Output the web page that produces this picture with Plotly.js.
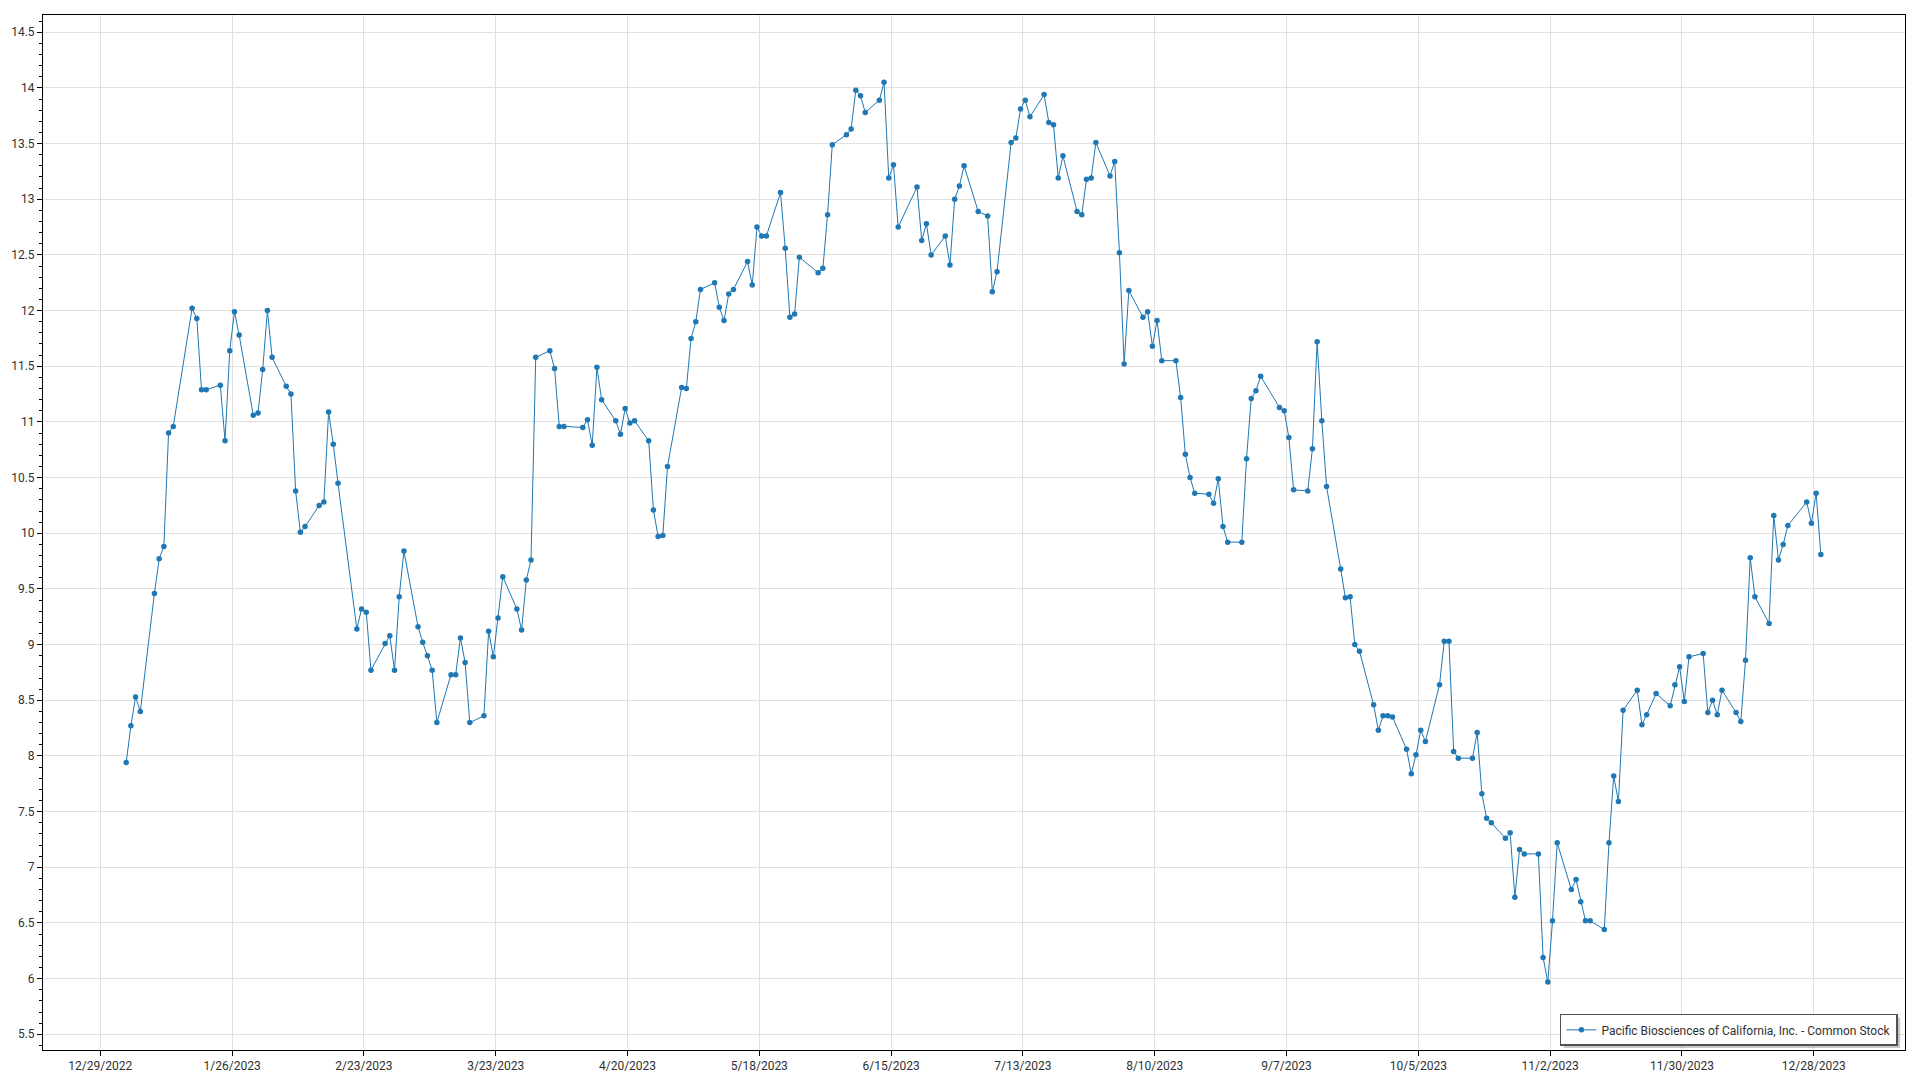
<!DOCTYPE html>
<html>
<head>
<meta charset="utf-8">
<script src="https://cdn.plot.ly/plotly-3.0.1.min.js"></script>
<style>
  html, body { margin: 0; padding: 0; background: #ffffff; }
  #chart { width: 1920px; height: 1080px; }
</style>
</head>
<body>
<div id="chart"></div>
<script>
// ---- Data: daily closing prices, 2023 ----
const seriesName = "Pacific Biosciences of California, Inc. - Common Stock";
const dataYear = 2023;

const janDays  = [3,4,5,6,9,10,11,12,13,17,18,19,20,23,24,25,26,27,30,31];
const janClose = [7.94,8.27,8.53,8.40,9.46,9.77,9.88,10.90,10.96,12.02,11.93,11.29,11.29,11.33,10.83,11.64,11.99,11.78,11.06,11.08];

const febDays  = [1,2,3,6,7,8,9,10,13,14,15,16,17,21,22,23,24,27,28];
const febClose = [11.47,12.00,11.58,11.32,11.25,10.38,10.01,10.06,10.25,10.28,11.09,10.80,10.45,9.14,9.32,9.29,8.77,9.01,9.08];

const marDays  = [1,2,3,6,7,8,9,10,13,14,15,16,17,20,21,22,23,24,27,28,29,30,31];
const marClose = [8.77,9.43,9.84,9.16,9.02,8.90,8.77,8.30,8.73,8.73,9.06,8.84,8.30,8.36,9.12,8.89,9.24,9.61,9.32,9.13,9.58,9.76,11.58];

const aprDays  = [3,4,5,6,10,11,12,13,14,17,18,19,20,21,24,25,26,27,28];
const aprClose = [11.64,11.48,10.96,10.96,10.95,11.02,10.79,11.49,11.20,11.01,10.89,11.12,10.99,11.01,10.83,10.21,9.97,9.98,10.60];

const mayDays  = [1,2,3,4,5,8,9,10,11,12,15,16,17,18,19,22,23,24,25,26,30,31];
const mayClose = [11.31,11.30,11.75,11.90,12.19,12.25,12.03,11.91,12.15,12.19,12.44,12.23,12.75,12.67,12.67,13.06,12.56,11.94,11.97,12.48,12.34,12.38];

const junDays  = [1,2,5,6,7,8,9,12,13,14,15,16,20,21,22,23,26,27,28,29,30];
const junClose = [12.86,13.49,13.58,13.63,13.98,13.93,13.78,13.89,14.05,13.19,13.31,12.75,13.11,12.63,12.78,12.50,12.67,12.41,13.00,13.12,13.30];

const julDays  = [3,5,6,7,10,11,12,13,14,17,18,19,20,21,24,25,26,27,28,31];
const julClose = [12.89,12.85,12.17,12.35,13.51,13.55,13.81,13.89,13.74,13.94,13.69,13.67,13.19,13.39,12.89,12.86,13.18,13.19,13.51,13.21];

const augDays  = [1,2,3,4,7,8,9,10,11,14,15,16,17,18,21,22,23,24,25,28,29,30,31];
const augClose = [13.34,12.52,11.52,12.18,11.94,11.99,11.68,11.91,11.55,11.55,11.22,10.71,10.50,10.36,10.35,10.27,10.49,10.06,9.92,9.92,10.67,11.21,11.28];

const sepDays  = [1,5,6,7,8,11,12,13,14,15,18,19,20,21,22,25,26,27,28,29];
const sepClose = [11.41,11.13,11.10,10.86,10.39,10.38,10.76,11.72,11.01,10.42,9.68,9.42,9.43,9.00,8.94,8.46,8.23,8.36,8.36,8.35];

const octDays  = [2,3,4,5,6,9,10,11,12,13,16,17,18,19,20,23,24,25,26,27,30,31];
const octClose = [8.06,7.84,8.01,8.23,8.13,8.64,9.03,9.03,8.04,7.98,7.98,8.21,7.66,7.44,7.40,7.26,7.31,6.73,7.16,7.12,7.12,6.19];

const novDays  = [1,2,3,6,7,8,9,10,13,14,15,16,17,20,21,22,24,27,28,29,30];
const novClose = [5.97,6.52,7.22,6.80,6.89,6.69,6.52,6.52,6.44,7.22,7.82,7.59,8.41,8.59,8.28,8.37,8.56,8.45,8.64,8.80,8.49];

const decDays  = [1,4,5,6,7,8,11,12,13,14,15,18,19,20,21,22,26,27,28,29];
const decClose = [8.89,8.92,8.39,8.50,8.37,8.59,8.39,8.31,8.86,9.78,9.43,9.19,10.16,9.76,9.90,10.07,10.28,10.09,10.36,9.81];

const monthDays  = [janDays, febDays, marDays, aprDays, mayDays, junDays, julDays, augDays, sepDays, octDays, novDays, decDays];
const monthClose = [janClose, febClose, marClose, aprClose, mayClose, junClose, julClose, augClose, sepClose, octClose, novClose, decClose];

// ---- Build the series ----
const pad = n => String(n).padStart(2, '0');
const xDates = [];
const yClose = [];
monthDays.forEach((days, mi) => {
  days.forEach((d, i) => {
    xDates.push(`${dataYear}-${pad(mi + 1)}-${pad(d)} 12:00`);
    yClose.push(monthClose[mi][i]);
  });
});

const lineColor = '#1f77b4';
const fontFamily = 'Roboto, "Noto Sans", sans-serif';
const textColor = '#303030';

const trace = {
  type: 'scatter',
  mode: 'lines+markers',
  name: seriesName,
  x: xDates,
  y: yClose,
  line: { color: lineColor, width: 1 },
  marker: { color: lineColor, size: 5.5 },
  showlegend: true
};

const layout = {
  width: 1920,
  height: 1080,
  margin: { l: 43, r: 15, t: 15, b: 30, pad: 0 },
  paper_bgcolor: '#ffffff',
  plot_bgcolor: '#ffffff',
  font: { family: fontFamily, size: 12, color: textColor },
  showlegend: true,
  xaxis: {
    type: 'date',
    range: ['2022-12-16 19:55', '2024-01-16 09:10'],
    tick0: '2022-12-29',
    dtick: 28 * 86400000,
    tickformat: '%-m/%-d/%Y',
    showgrid: true,
    gridcolor: '#e0e0e0',
    gridwidth: 1,
    zeroline: false,
    showline: true,
    linecolor: '#000000',
    linewidth: 1,
    mirror: true,
    ticks: 'outside',
    ticklen: 5,
    tickcolor: '#000000',
    tickfont: { family: fontFamily, size: 12, color: textColor }
  },
  yaxis: {
    range: [5.3587, 14.655],
    dtick: 0.5,
    tick0: 0,
    showgrid: true,
    gridcolor: '#e0e0e0',
    gridwidth: 1,
    zeroline: false,
    showline: true,
    linecolor: '#000000',
    linewidth: 1,
    mirror: true,
    ticks: 'outside',
    ticklen: 5,
    tickcolor: '#000000',
    tickfont: { family: fontFamily, size: 12, color: textColor },
    minor: { dtick: 0.1, ticks: 'outside', ticklen: 3, tickcolor: '#000000', showgrid: false }
  },
  legend: {
    x: 0.9962,
    y: 0.004,
    xanchor: 'right',
    yanchor: 'bottom',
    bgcolor: '#ffffff',
    bordercolor: '#505050',
    borderwidth: 1.5,
    font: { family: fontFamily, size: 12, color: textColor }
  }
};

Plotly.newPlot('chart', [trace], layout, { displayModeBar: false, responsive: false }).then(gd => {
  const bg = gd.querySelector('.legend .bg');
  if (!bg) return;
  const r = bg.getBoundingClientRect();
  const c = gd.getBoundingClientRect();
  const s = gd._fullLayout._size;
  const off = 3;
  const px = v => (v - c.left - s.l) / s.w;
  const py = v => 1 - (v - c.top - s.t) / s.h;
  Plotly.relayout(gd, {
    shapes: [{
      type: 'rect', xref: 'paper', yref: 'paper', layer: 'above',
      x0: px(r.left + off), x1: px(r.right + off),
      y0: py(r.bottom + off), y1: py(r.top + off),
      fillcolor: 'rgba(0,0,0,0.22)', line: { width: 0 }
    }]
  });
});
</script>
</body>
</html>
